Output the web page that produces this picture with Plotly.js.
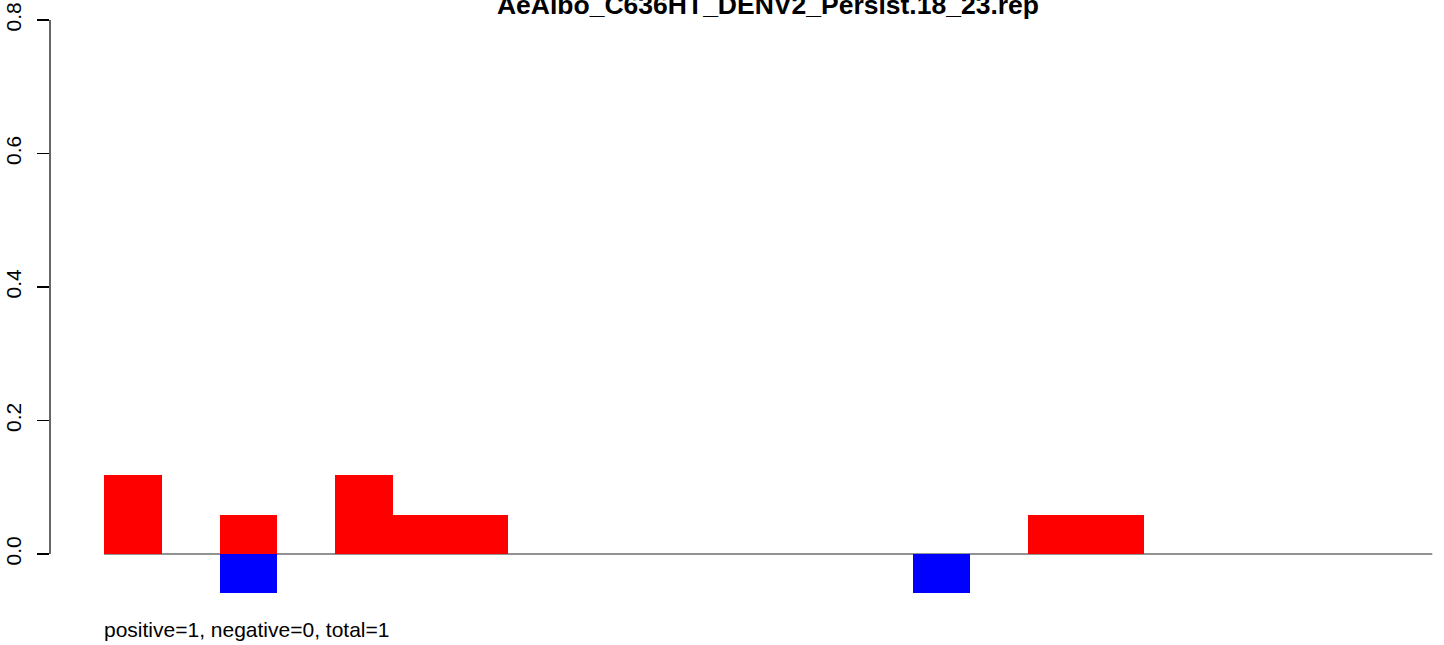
<!DOCTYPE html>
<html>
<head>
<meta charset="utf-8">
<script src="https://cdn.plot.ly/plotly-3.0.1.min.js"></script>
<style>
  html, body { margin: 0; padding: 0; background: #ffffff; }
  #chart { width: 1444px; height: 645px; }
</style>
</head>
<body>
<div id="chart"></div>
<script>
// Positions (slots) along the x direction
const positions = [1,2,3,4,5,6,7,8,9,10,11,12,13,14,15,16,17,18,19,20,21,22,23];
// Positive-strand proportions (red, above zero)
const positiveValues = [0.118,0,0.059,0,0.118,0.059,0.059,0,0,0,0,0,0,0,0,0,0.059,0.059,0,0,0,0,0];
// Negative-strand proportions (blue, below zero)
const negativeValues = [0,0,-0.059,0,0,0,0,0,0,0,0,0,0,0,-0.059,0,0,0,0,0,0,0,0];
// Y tick values and labels
const yTickVals = [0, 0.2, 0.4, 0.6, 0.8];
const yTickText = ['0.0', '0.2', '0.4', '0.6', '0.8'];

const titleText = 'AeAlbo_C636HT_DENV2_Persist.18_23.rep';
const footText = 'positive=1, negative=0, total=1';

const FONT = 'Liberation Sans, Arial, Helvetica, sans-serif';

const traces = [
  { type: 'bar', x: positions, y: positiveValues, width: 1,
    marker: { color: '#ff0000', line: { width: 0 } }, hoverinfo: 'x+y', showlegend: false },
  { type: 'bar', x: positions, y: negativeValues, width: 1,
    marker: { color: '#0000ff', line: { width: 0 } }, hoverinfo: 'x+y', showlegend: false }
];

const layout = {
  width: 1444, height: 645,
  margin: { l: 50, r: 0, t: 20, b: 45, pad: 0 },
  paper_bgcolor: '#ffffff', plot_bgcolor: '#ffffff',
  barmode: 'relative', bargap: 0,
  font: { family: FONT, size: 21, color: '#000000' },
  title: { text: '<b>' + titleText + '</b>', font: { family: FONT, size: 26.5, color: '#000000' },
           xref: 'container', yref: 'container', x: 768 / 1444, y: 1 - 5 / 645,
           xanchor: 'center', yanchor: 'middle' },
  xaxis: { range: [-0.435, 23.703], visible: false, fixedrange: true },
  yaxis: { range: [-0.0689, 0.8], tickvals: yTickVals, ticktext: yTickText, tickangle: -90,
           ticks: 'outside', ticklen: 12, tickwidth: 1.2, tickcolor: '#000000',
           ticklabelstandoff: 8,
           showline: false, showgrid: false, zeroline: false,
           tickfont: { family: FONT, size: 21, color: '#000000' }, fixedrange: true },
  shapes: [
    { type: 'line', xref: 'paper', yref: 'y', x0: 0, x1: 0, y0: 0, y1: 0.8,
      line: { color: '#000000', width: 1.2 } },
    { type: 'line', xref: 'x', yref: 'y', x0: 0.5, x1: 23.5, y0: 0, y1: 0, layer: 'below',
      line: { color: '#6e6e6e', width: 1.3 } }
  ],
  annotations: [
    { text: footText, xref: 'x', yref: 'paper', x: 0.5, y: -(629 - 600) / 580, xshift: -2,
      xanchor: 'left', yanchor: 'middle', showarrow: false,
      font: { family: FONT, size: 21, color: '#000000' } }
  ]
};

Plotly.newPlot('chart', traces, layout, { displayModeBar: false, staticPlot: true });
</script>
</body>
</html>
